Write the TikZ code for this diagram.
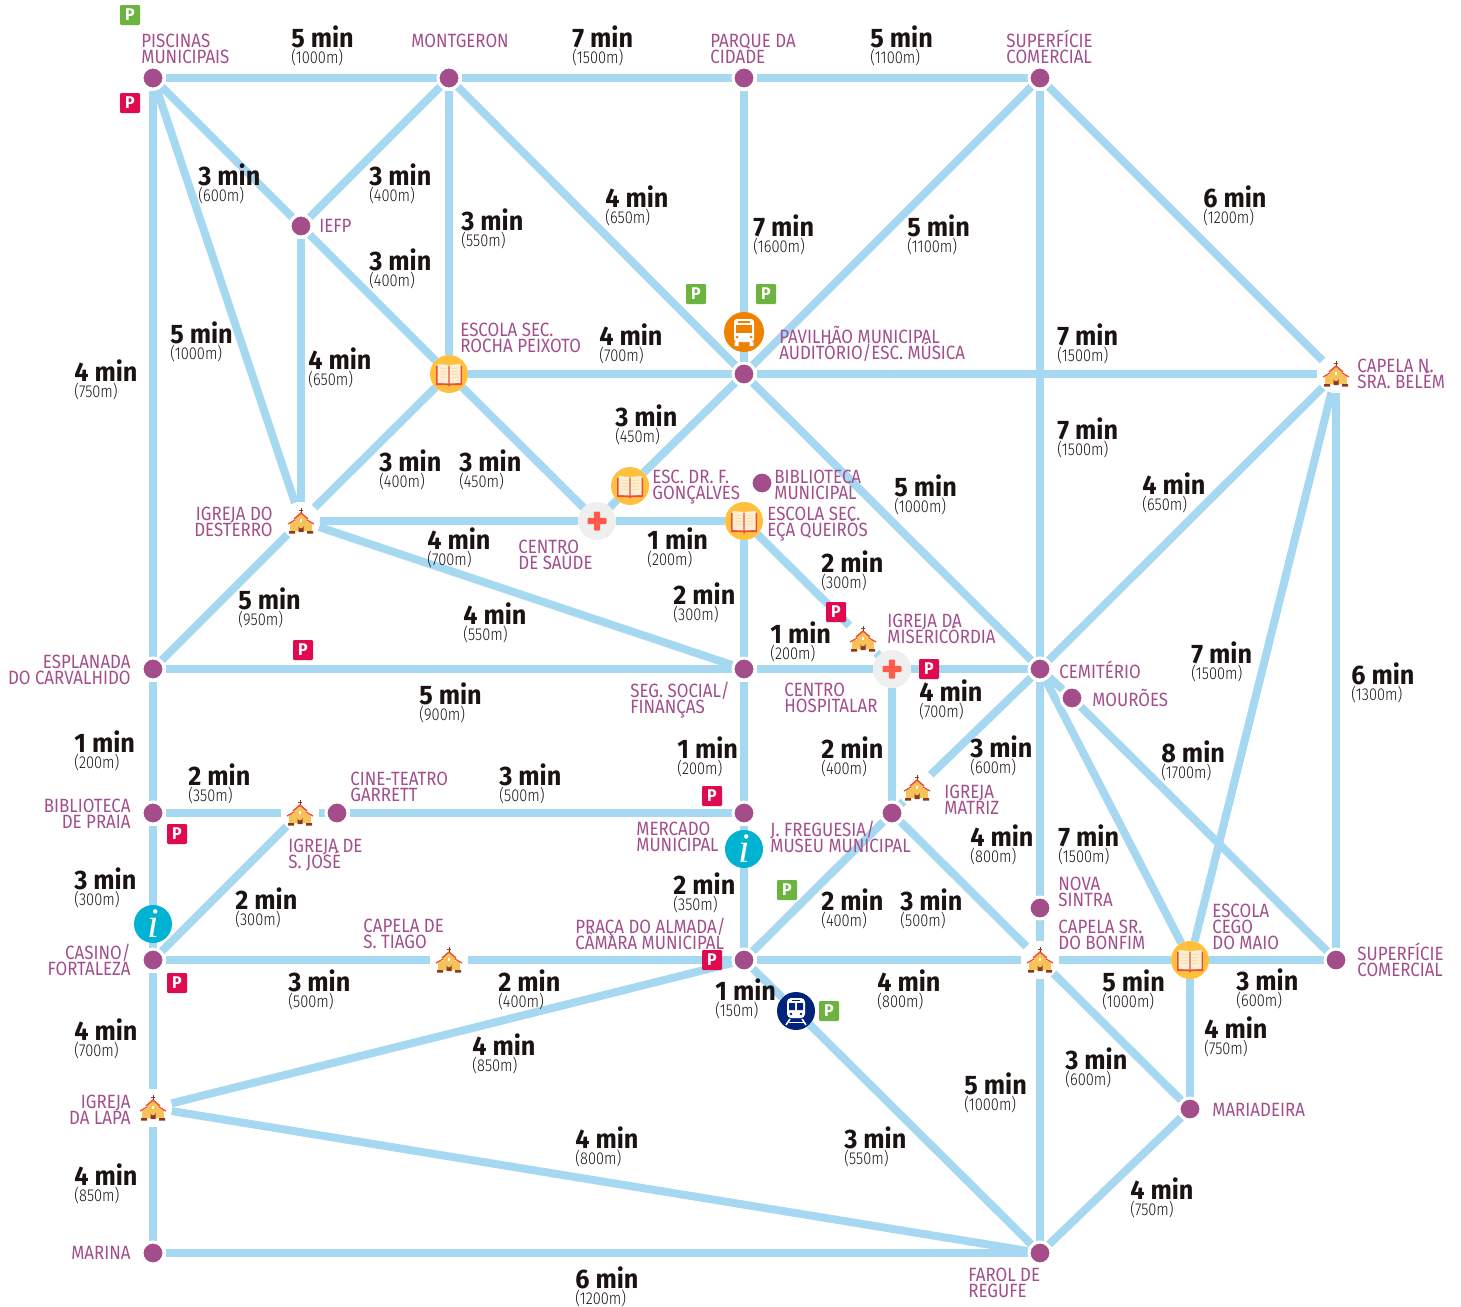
\documentclass[tikz,border=0pt]{standalone}
\usepackage{fontspec}
\usetikzlibrary{backgrounds}
\newfontfamily\timefont[FakeStretch=0.94]{Fira Sans}
\newfontfamily\distfont[FakeStretch=0.85]{Fira Sans Light}
\newfontfamily\labfont[FakeStretch=0.88]{Fira Sans}
\newfontfamily\infofont{Liberation Serif}
\definecolor{route}{HTML}{A6D8F1}
\definecolor{stopc}{HTML}{A34E8A}
\definecolor{ink}{HTML}{1A1311}
\definecolor{pgreen}{HTML}{6DB33F}
\definecolor{pred}{HTML}{E00A4E}
\definecolor{gold}{HTML}{FFC13D}
\definecolor{crossc}{HTML}{FF5A4B}
\definecolor{greyc}{HTML}{EFEFEF}
\definecolor{busc}{HTML}{EE8200}
\definecolor{trainc}{HTML}{00237B}
\definecolor{infoc}{HTML}{00B3D3}
\definecolor{wall}{HTML}{F7C25A}
\definecolor{roofc}{HTML}{EF4B36}
\definecolor{doorc}{HTML}{8A3A1E}
\definecolor{pagec}{HTML}{FBEFD8}
\newcount\nodeid
\newcommand{\tmlabel}[4]{%
  \global\advance\nodeid by 1\relax
  \node[timetxt,name=t\the\nodeid] at (#1,#2+9) {#3};
  \node[disttxt,name=d\the\nodeid] at (#1,#2+25) {#4};}
\newcommand{\leftlab}[3]{%
  \global\advance\nodeid by 1\relax
  \node[labl,name=l\the\nodeid] at (#1,#2-13.5) {\leavevmode\vrule width 0pt height 10pt\relax #3};}
\newcommand{\rightlab}[3]{%
  \global\advance\nodeid by 1\relax
  \node[labr,name=l\the\nodeid] at (#1,#2-13.5) {\leavevmode\vrule width 0pt height 10pt\relax #3};}
\newcommand{\psign}[3]{%
  \global\advance\nodeid by 1\relax
  \node[parking,fill=#3,name=p\the\nodeid] at (#1,#2) {P};}
\tikzset{
  routeline/.style={draw=route,line width=4pt},
  stop/.style={circle,fill=stopc,draw=white,line width=1.5pt,minimum size=11pt,inner sep=0pt,outer sep=0.75pt},
  churchbg/.style={circle,fill=white,minimum size=19pt,inner sep=0pt,outer sep=0pt},
  bookbg/.style={circle,fill=gold,minimum size=19pt,inner sep=0pt,outer sep=0pt},
  crossbg/.style={circle,fill=greyc,minimum size=19pt,inner sep=0pt,outer sep=0pt},
  busbg/.style={circle,fill=busc,minimum size=20pt,inner sep=0pt},
  trainbg/.style={circle,fill=trainc,minimum size=19pt,inner sep=0pt},
  infobg/.style={circle,fill=infoc,minimum size=19pt,inner sep=0pt,text=white,font=\infofont\fontsize{21}{21}\selectfont\itshape},
  timetxt/.style={anchor=base west,inner sep=0pt,text=ink,font=\timefont\bfseries\fontsize{13.4}{14}\selectfont},
  disttxt/.style={anchor=base west,inner sep=0pt,text=ink,font=\distfont\fontsize{8.6}{10}\selectfont},
  labfnt/.style={inner sep=0pt,text=stopc,font=\labfont\fontsize{9.6}{8}\selectfont},
  labl/.style={labfnt,anchor=north west,align=left},
  labr/.style={labfnt,anchor=north east,align=right},
  parking/.style={minimum size=10pt,inner sep=0pt,rounded corners=0.6pt,text=white,font=\timefont\bfseries\fontsize{8.5}{9}\selectfont},
  church/.pic={
    \fill[wall] (-11,1) rectangle (11,10);
    \fill[wall] (-6,-3) -- (0,-8) -- (6,-3) -- (6,10) -- (-6,10) -- cycle;
    \draw[roofc,line width=0.6pt] (-13,3) -- (-6,-1);
    \draw[roofc,line width=0.6pt] (13,3) -- (6,-1);
    \draw[roofc,line width=0.7pt] (-7,-2) -- (0,-8) -- (7,-2);
    \draw[doorc,line width=0.5pt] (0,-13) -- (0,-8) (-2,-11) -- (2,-11);
    \fill[doorc] (-2.5,11) -- (-2.5,5) arc[start angle=180,end angle=0,radius=2.5] -- (2.5,11) -- cycle;
    \fill[doorc] (-12,10) rectangle (-6,12.5) (6,10) rectangle (12,12.5);
    \fill[white] (-1.2,-2.5) rectangle (1.2,0.5);
  },
  book/.pic={
    \fill[roofc] (-13,-8) -- (13,-8) -- (13,11) -- (1.5,11) -- (0,12.5) -- (-1.5,11) -- (-13,11) -- cycle;
    \fill[pagec] (-11.5,-10) -- (-0.7,-9) -- (-0.7,9.5) -- (-11.5,9) -- cycle;
    \fill[pagec] (11.5,-10) -- (0.7,-9) -- (0.7,9.5) -- (11.5,9) -- cycle;
    \draw[gold!70!white,line width=0.3pt] (-9,-6) -- (-3,-5.5) (-9,-3) -- (-3,-2.5) (-9,0) -- (-3,0.5) (-9,3) -- (-3,3.5)
      (9,-6) -- (3,-5.5) (9,-3) -- (3,-2.5) (9,0) -- (3,0.5) (9,3) -- (3,3.5);
  },
  crosssign/.pic={
    \fill[crossc,rounded corners=0.5pt] (-3.2,-9.5) rectangle (3.2,9.5);
    \fill[crossc,rounded corners=0.5pt] (-9.5,-3.2) rectangle (9.5,3.2);
  },
  bussign/.pic={
    \fill[white,rounded corners=1.5pt] (-10,-13) rectangle (10,10);
    \fill[busc] (-8,-7) rectangle (8,1);
    \fill[busc] (-6,-11) rectangle (6,-9.5);
    \fill[busc] (-7,5) circle[radius=1.5] (7,5) circle[radius=1.5];
    \fill[white] (-9.5,10) rectangle (-5.5,14) (9.5,10) rectangle (5.5,14);
  },
  trainsign/.pic={
    \fill[white,rounded corners=2pt] (-9,-13) rectangle (9,7);
    \fill[trainc] (-7,-8) rectangle (-1,-1) (1,-8) rectangle (7,-1);
    \fill[trainc] (-4,-11.5) rectangle (4,-10);
    \fill[trainc] (-5,3) circle[radius=1.3] (5,3) circle[radius=1.3];
    \draw[white,line width=0.8pt] (-6,8) -- (-10,14) (6,8) -- (10,14);
    \draw[white,line width=0.8pt] (-7.5,11.5) -- (7.5,11.5);
  }
}
\begin{document}
\begin{tikzpicture}[x=0.5pt,y=-0.5pt]
\useasboundingbox (0,0) rectangle (1461,1306);
% ----- stops
\foreach \n/\x/\y in {pis/153/78,mon/449/78,par/744/78,sup/1040/78,iefp/301/226,pav/744/374,
  esp/153/669,seg/744/669,cem/1040/669,mou/1072/698,bpr/153/813,gar/337/813,mer/744/813,mat/892/813,
  cas/153/960,alm/744/960,supb/1336/960,nov/1040/908,mar/1190/1109,marina/153/1253,far/1040/1253,bib/762/483}
  {\node[stop] (\n) at (\x,\y) {};}
% ----- churches
\foreach \n/\x/\y in {capb/1336/374,des/301/521,mis/863/639,jos/300/813,igm/917/788,tia/449/960,bon/1040/960,lapa/153/1108}
  {\node[churchbg] (\n) at (\x,\y) {}; \pic at (\n) {church};}
% ----- schools
\foreach \n/\x/\y in {roc/449/374,gon/630/486,esc/744/521,cego/1190/960}
  {\node[bookbg] (\n) at (\x,\y) {}; \pic at (\n) {book};}
% ----- health
\foreach \n/\x/\y in {sau/597/521,hos/892/669}
  {\node[crossbg] (\n) at (\x,\y) {}; \pic at (\n) {crosssign};}
% ----- transport and information
\node[busbg] (bus) at (744,332) {}; \pic at (bus) {bussign};
\node[trainbg] (train) at (796,1011) {}; \pic at (train) {trainsign};
\node[infobg] (info1) at (153,924) {i};
\node[infobg] (info2) at (744,849) {i};
% ----- routes
\begin{scope}[on background layer]
\foreach \a/\b in {pis/mon,mon/par,par/sup,pis/esp,esp/bpr,bpr/cas,cas/lapa,lapa/marina,
  pis/iefp,pis/des,iefp/mon,iefp/roc,iefp/des,mon/roc,mon/pav,par/pav,sup/pav,sup/capb,sup/cem,
  cem/bon,bon/far,roc/pav,pav/capb,roc/des,roc/sau,pav/gon,gon/sau,des/sau,sau/esc,esc/mis,mis/hos,
  pav/cem,capb/cem,capb/cego,capb/supb,des/esp,des/seg,esp/seg,seg/hos,hos/cem,esc/seg,seg/mer,
  hos/mat,mat/igm,igm/cem,mat/alm,mat/bon,mer/alm,bpr/jos,jos/gar,gar/mer,jos/cas,cas/tia,tia/alm,
  alm/bon,bon/cego,cego/supb,cem/cego,cem/mou,mou/supb,bon/mar,cego/mar,mar/far,alm/train,train/far,
  alm/lapa,lapa/far,marina/far}
  {\draw[routeline] (\a) -- (\b);}
\end{scope}
% ----- parking
\psign{130}{15}{pgreen}\psign{696}{294}{pgreen}\psign{766}{294}{pgreen}\psign{787}{890}{pgreen}\psign{829}{1011}{pgreen}
\psign{130}{103}{pred}\psign{836}{612}{pred}\psign{929}{669}{pred}\psign{303}{650}{pred}\psign{712}{796}{pred}
\psign{177}{834}{pred}\psign{177}{983}{pred}\psign{712}{960}{pred}
% ----- place names
\lineskiplimit=-8pt\relax
\leftlab{141}{41}{PISCINAS\\MUNICIPAIS}
\leftlab{411}{41}{MONTGERON}
\leftlab{710}{41}{PARQUE DA\\CIDADE}
\leftlab{1006}{41}{SUPERFÍCIE\\COMERCIAL}
\leftlab{319}{226}{IEFP}
\leftlab{460}{330}{ESCOLA SEC.\\ROCHA PEIXOTO}
\leftlab{779}{337}{PAVILHÃO MUNICIPAL\\AUDITÓRIO/ESC. MÚSICA}
\leftlab{1357}{366}{CAPELA N.\\SRA. BELÉM}
\leftlab{652}{477}{ESC. DR. F.\\GONÇALVES}
\leftlab{774}{477}{BIBLIOTECA\\MUNICIPAL}
\leftlab{767}{514}{ESCOLA SEC.\\EÇA QUEIRÓS}
\rightlab{273}{514}{IGREJA DO\\DESTERRO}
\leftlab{518}{547}{CENTRO\\DE SAÚDE}
\leftlab{887}{621}{IGREJA DA\\MISERICÓRDIA}
\rightlab{131}{662}{ESPLANADA\\DO CARVALHIDO}
\leftlab{630}{691}{SEG. SOCIAL/\\FINANÇAS}
\leftlab{784}{690}{CENTRO\\HOSPITALAR}
\leftlab{1059}{672}{CEMITÉRIO}
\leftlab{1092}{700}{MOURÕES}
\leftlab{350}{779}{CINE-TEATRO\\GARRETT}
\rightlab{131}{806}{BIBLIOTECA\\DE PRAIA}
\leftlab{944}{792}{IGREJA\\MATRIZ}
\leftlab{288}{846}{IGREJA DE\\S. JOSÉ}
\leftlab{636}{829}{MERCADO\\MUNICIPAL}
\leftlab{770}{830}{J. FREGUESIA/\\MUSEU MUNICIPAL}
\leftlab{1058}{884}{NOVA\\SINTRA}
\leftlab{1058}{927}{CAPELA SR.\\DO BONFIM}
\leftlab{1212}{911}{ESCOLA\\CEGO\\DO MAIO}
\leftlab{363}{926}{CAPELA DE\\S. TIAGO}
\leftlab{575}{927}{PRAÇA DO ALMADA/\\CÂMARA MUNICIPAL}
\rightlab{131}{953}{CASINO/\\FORTALEZA}
\leftlab{1357}{954}{SUPERFÍCIE\\COMERCIAL}
\rightlab{131}{1102}{IGREJA\\DA LAPA}
\leftlab{1212}{1110}{MARIADEIRA}
\rightlab{131}{1253}{MARINA}
\leftlab{968}{1275}{FAROL DE\\REGUFE}
% ----- travel times
\tmlabel{291}{38}{5 min}{(1000m)}
\tmlabel{572}{38}{7 min}{(1500m)}
\tmlabel{870}{38}{5 min}{(1100m)}
\tmlabel{198}{176}{3 min}{(600m)}
\tmlabel{369}{176}{3 min}{(400m)}
\tmlabel{461}{221}{3 min}{(550m)}
\tmlabel{605}{198}{4 min}{(650m)}
\tmlabel{753}{227}{7 min}{(1600m)}
\tmlabel{907}{227}{5 min}{(1100m)}
\tmlabel{1203}{198}{6 min}{(1200m)}
\tmlabel{369}{261}{3 min}{(400m)}
\tmlabel{170}{334}{5 min}{(1000m)}
\tmlabel{308}{360}{4 min}{(650m)}
\tmlabel{599}{336}{4 min}{(700m)}
\tmlabel{1057}{336}{7 min}{(1500m)}
\tmlabel{74}{372}{4 min}{(750m)}
\tmlabel{615}{417}{3 min}{(450m)}
\tmlabel{1057}{430}{7 min}{(1500m)}
\tmlabel{379}{462}{3 min}{(400m)}
\tmlabel{459}{462}{3 min}{(450m)}
\tmlabel{894}{487}{5 min}{(1000m)}
\tmlabel{1142}{485}{4 min}{(650m)}
\tmlabel{427}{540}{4 min}{(700m)}
\tmlabel{647}{540}{1 min}{(200m)}
\tmlabel{821}{563}{2 min}{(300m)}
\tmlabel{238}{600}{5 min}{(950m)}
\tmlabel{673}{595}{2 min}{(300m)}
\tmlabel{463}{615}{4 min}{(550m)}
\tmlabel{770}{634}{1 min}{(200m)}
\tmlabel{1191}{654}{7 min}{(1500m)}
\tmlabel{1351}{675}{6 min}{(1300m)}
\tmlabel{419}{695}{5 min}{(900m)}
\tmlabel{919}{692}{4 min}{(700m)}
\tmlabel{74}{743}{1 min}{(200m)}
\tmlabel{677}{749}{1 min}{(200m)}
\tmlabel{821}{749}{2 min}{(400m)}
\tmlabel{970}{748}{3 min}{(600m)}
\tmlabel{1161}{753}{8 min}{(1700m)}
\tmlabel{188}{776}{2 min}{(350m)}
\tmlabel{499}{776}{3 min}{(500m)}
\tmlabel{970}{837}{4 min}{(800m)}
\tmlabel{1058}{837}{7 min}{(1500m)}
\tmlabel{74}{880}{3 min}{(300m)}
\tmlabel{673}{885}{2 min}{(350m)}
\tmlabel{235}{900}{2 min}{(300m)}
\tmlabel{821}{901}{2 min}{(400m)}
\tmlabel{900}{901}{3 min}{(500m)}
\tmlabel{288}{982}{3 min}{(500m)}
\tmlabel{498}{982}{2 min}{(400m)}
\tmlabel{877}{982}{4 min}{(800m)}
\tmlabel{1102}{982}{5 min}{(1000m)}
\tmlabel{1236}{981}{3 min}{(600m)}
\tmlabel{715}{991}{1 min}{(150m)}
\tmlabel{74}{1031}{4 min}{(700m)}
\tmlabel{1204}{1029}{4 min}{(750m)}
\tmlabel{472}{1046}{4 min}{(850m)}
\tmlabel{1065}{1060}{3 min}{(600m)}
\tmlabel{964}{1085}{5 min}{(1000m)}
\tmlabel{575}{1139}{4 min}{(800m)}
\tmlabel{844}{1139}{3 min}{(550m)}
\tmlabel{74}{1176}{4 min}{(850m)}
\tmlabel{1130}{1190}{4 min}{(750m)}
\tmlabel{575}{1279}{6 min}{(1200m)}
\end{tikzpicture}
\end{document}
